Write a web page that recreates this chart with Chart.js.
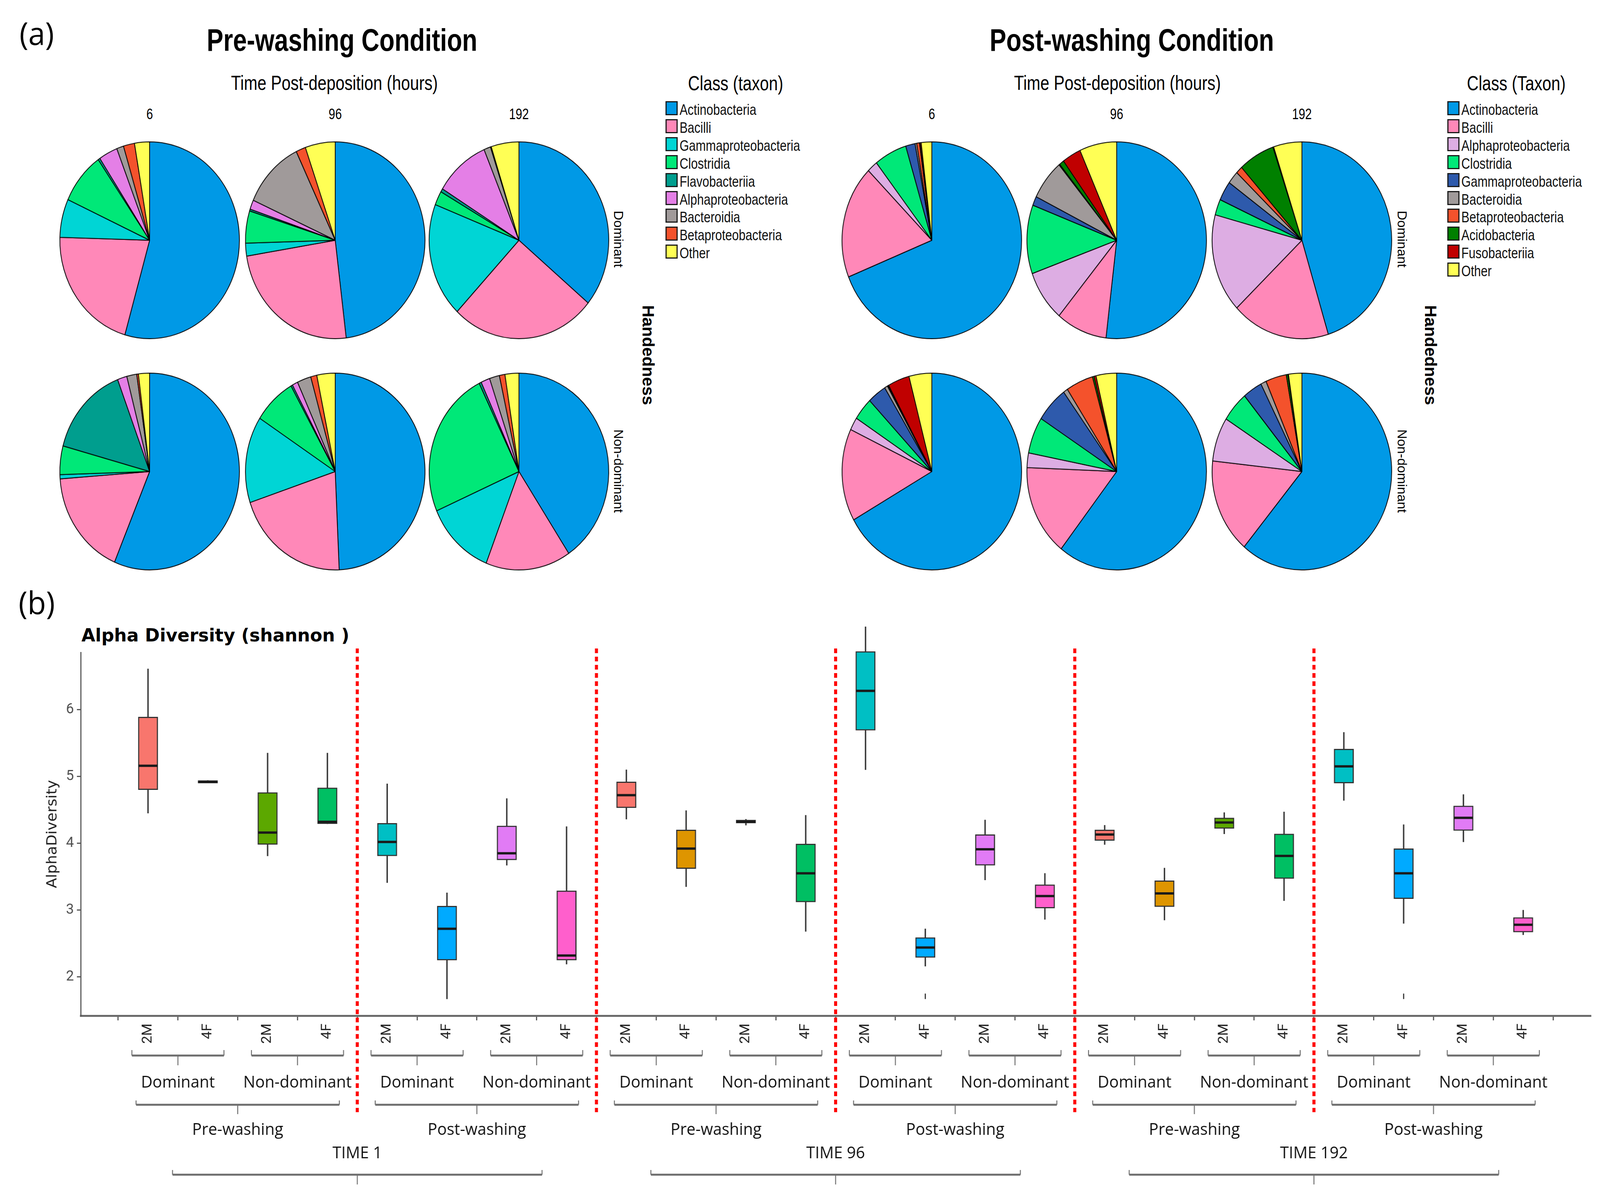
<!DOCTYPE html>
<html>
<head>
<meta charset="utf-8">
<script src="https://cdn.jsdelivr.net/npm/chart.js@4.4.1/dist/chart.umd.min.js"></script>
<style>
  html, body { margin: 0; padding: 0; background: #fff; overflow: hidden; }
  #page { position: relative; width: 4224px; height: 3059px; overflow: hidden; background: #fff; transform-origin: 0 0; }
  .t { position: absolute; white-space: nowrap; color: #000; transform: translate(-50%, -50%); line-height: 1; }
  .arial { font-family: 'Liberation Sans', Arial, sans-serif; }
  .narrow { font-family: 'Liberation Sans', Arial, sans-serif; transform: translate(-50%, -50%) scaleX(0.82); }
  .calibri { font-family: 'Open Sans', 'Noto Sans', sans-serif; }
  .rot { transform: translate(-50%, -50%) rotate(90deg); }
  .pie { position: absolute; width: 480px; height: 480px; transform: scaleY(1.063); }
  .lg { position: absolute; white-space: nowrap; font-size: 39px; line-height: 1; transform-origin: 0 50%;
        transform: translateY(-50%) scaleX(0.82); font-family: 'Liberation Sans', Arial, sans-serif; color: #111; }
  .sw { position: absolute; width: 32px; height: 36px; border: 3.5px solid #1a1a1a; transform: translateY(-50%); box-sizing: border-box; }
  #boxplot { position: absolute; left: 0; top: 1580px; }
</style>
</head>
<body>
<div id="page">
  <div class="t calibri" style="left:97px;top:84px;font-size:80px;">(a)</div>
  <div class="t calibri" style="left:97px;top:1541px;font-size:80px;">(b)</div>

  <div class="t narrow" style="left:903px;top:103px;font-size:80px;font-weight:bold;">Pre-washing Condition</div>
  <div class="t narrow" style="left:2988px;top:103px;font-size:80px;font-weight:bold;">Post-washing Condition</div>
  <div class="t narrow" style="left:883px;top:212px;font-size:52px;">Time Post-deposition (hours)</div>
  <div class="t narrow" style="left:2950px;top:212px;font-size:52px;">Time Post-deposition (hours)</div>
  <div class="t narrow" style="left:1942px;top:213px;font-size:52px;">Class (taxon)</div>
  <div class="t narrow" style="left:4003px;top:213px;font-size:52px;">Class (Taxon)</div>

  <div class="t arial rot" style="left:1633px;top:612px;font-size:34px;">Dominant</div>
  <div class="t arial rot" style="left:1633px;top:1206px;font-size:34px;">Non-dominant</div>
  <div class="t arial rot" style="left:1711px;top:909px;font-size:43px;font-weight:bold;">Handedness</div>
  <div class="t arial rot" style="left:3702px;top:612px;font-size:34px;">Dominant</div>
  <div class="t arial rot" style="left:3702px;top:1206px;font-size:34px;">Non-dominant</div>
  <div class="t arial rot" style="left:3776px;top:909px;font-size:43px;font-weight:bold;">Handedness</div>

  <div class="t" style="left:215px;top:1625px;transform:translateY(-50%);font-family:'DejaVu Sans',sans-serif;font-weight:bold;font-size:47px;">Alpha Diversity (shannon )</div>

  <canvas id="boxplot" width="4224" height="1479"></canvas>
</div>

<script>
// ---- pie data (percent of reads, clockwise from 12 o'clock) ----
const hours = ['6', '96', '192'];

const preTaxa = ['Actinobacteria', 'Bacilli', 'Gammaproteobacteria', 'Clostridia', 'Flavobacteriia',
  'Alphaproteobacteria', 'Bacteroidia', 'Betaproteobacteria', 'Other'];
const preColors = ['#0099E6', '#FF88B8', '#00D5D5', '#00E878', '#009E8E', '#E47FE6', '#A09A9A', '#F4522C', '#FFFF55'];

const preDom6    = [54.4, 21.0, 6.3, 8.5, 0.35, 3.4, 1.25, 2.0, 2.7];
const preDom96   = [48.1, 24.4, 2.1, 5.3, 0.3, 1.55, 11.2, 1.75, 5.4];
const preDom192  = [36.0, 26.1, 18.8, 2.3, 0.55, 9.9, 1.2, 0.15, 5.0];
const preNon6    = [56.4, 17.4, 0.7, 4.7, 15.0, 1.7, 1.8, 0.3, 2.0];
const preNon96   = [49.3, 20.6, 14.2, 7.7, 0.3, 1.0, 2.5, 1.1, 3.3];
const preNon192  = [40.6, 15.3, 12.5, 24.2, 0.4, 1.6, 1.8, 1.0, 2.5];

const postTaxa = ['Actinobacteria', 'Bacilli', 'Alphaproteobacteria', 'Clostridia', 'Gammaproteobacteria',
  'Bacteroidia', 'Betaproteobacteria', 'Acidobacteria', 'Fusobacteriia', 'Other'];
const postColors = ['#0099E6', '#FF88B8', '#DDADE3', '#00E878', '#2E5AAC', '#A09A9A', '#F4522C', '#008000', '#C00000', '#FFFF55'];

const postDom6   = [69.0, 18.6, 1.9, 5.9, 1.7, 0.3, 0.5, 0.1, 0.2, 1.9];
const postDom96  = [51.9, 9.2, 8.4, 11.3, 1.5, 6.6, 0.15, 0.85, 3.4, 6.7];
const postDom192 = [45.3, 17.7, 16.25, 2.6, 3.2, 2.1, 1.2, 6.5, 0.15, 5.1];
const postNon6   = [66.9, 15.2, 2.1, 3.7, 3.4, 0.55, 0.15, 0.1, 3.9, 4.1];
const postNon96  = [60.6, 15.0, 2.4, 6.0, 5.9, 0.8, 4.9, 0.3, 0.35, 3.7];
const postNon192 = [61.2, 15.6, 7.25, 5.0, 3.5, 1.0, 3.75, 0.3, 0.1, 2.4];

// ---- alpha diversity boxplots ----
const xLabels = ['2M', '4F', '2M', '4F', '2M', '4F', '2M', '4F',
                 '2M', '4F', '2M', '4F', '2M', '4F', '2M', '4F',
                 '2M', '4F', '2M', '4F', '2M', '4F', '2M', '4F'];
const whiskLo = [4.45, 4.90, 3.81, 4.29, 3.41, 1.67, 3.67, 2.19,
                 4.36, 3.35, 4.27, 2.68, 5.10, 2.16, 3.45, 2.86,
                 3.98, 2.85, 4.14, 3.14, 4.64, 2.80, 4.02, 2.63];
const q1      = [4.80, 4.90, 3.98, 4.29, 3.81, 2.25, 3.75, 2.25,
                 4.53, 3.62, 4.30, 3.12, 5.69, 2.29, 3.67, 3.03,
                 4.04, 3.05, 4.22, 3.47, 4.90, 3.17, 4.19, 2.67];
const medians = [5.16, 4.92, 4.16, 4.32, 4.02, 2.72, 3.85, 2.32,
                 4.72, 3.92, 4.32, 3.55, 6.28, 2.44, 3.91, 3.21,
                 4.13, 3.25, 4.31, 3.81, 5.15, 3.55, 4.38, 2.78];
const q3      = [5.89, 4.94, 4.76, 4.83, 4.30, 3.06, 4.26, 3.29,
                 4.92, 4.20, 4.35, 3.99, 6.87, 2.59, 4.13, 3.38,
                 4.20, 3.44, 4.38, 4.14, 5.41, 3.92, 4.56, 2.89];
const whiskHi = [6.61, 4.94, 5.35, 5.35, 4.89, 3.26, 4.67, 4.25,
                 5.10, 4.49, 4.36, 4.42, 7.24, 2.72, 4.35, 3.55,
                 4.27, 3.63, 4.46, 4.47, 5.66, 4.28, 4.73, 3.00];
const outlierX = [14, 22];
const outlierY = [1.71, 1.71];
const yTicks = [2, 3, 4, 5, 6];

const handLabels = ['Dominant', 'Non-dominant', 'Dominant', 'Non-dominant', 'Dominant', 'Non-dominant',
                    'Dominant', 'Non-dominant', 'Dominant', 'Non-dominant', 'Dominant', 'Non-dominant'];
const washLabels = ['Pre-washing', 'Post-washing', 'Pre-washing', 'Post-washing', 'Pre-washing', 'Post-washing'];
const timeLabels = ['TIME 1', 'TIME 96', 'TIME 192'];
const separators = [4.5, 8.5, 12.5, 16.5, 20.5];

const groupColors = ['#F8766D', '#DE9500', '#5CA800', '#00BF63', '#00BFC4', '#00AAFF', '#E17BF5', '#FF5FCC'];

const page = document.getElementById('page');

// fit the 4224x3059 page into whatever viewport we get
const sx = window.innerWidth / 4224, sy = window.innerHeight / 3059;
if (Math.abs(sx - 1) > 0.001 || Math.abs(sy - 1) > 0.001) {
  page.style.transform = 'scale(' + sx + ',' + sy + ')';
}

// ---- pies ----
function makePie(cx, cy, values, colors, labels) {
  const c = document.createElement('canvas');
  c.className = 'pie';
  c.width = 480; c.height = 480;
  c.style.left = (cx - 240) + 'px';
  c.style.top = (cy - 240) + 'px';
  page.appendChild(c);
  new Chart(c.getContext('2d'), {
    type: 'pie',
    data: {
      labels: labels,
      datasets: [{ data: values, backgroundColor: colors, borderColor: '#000', borderWidth: 2 }]
    },
    options: {
      responsive: false,
      animation: false,
      devicePixelRatio: 1,
      layout: { padding: 2 },
      plugins: { legend: { display: false }, tooltip: { enabled: false } }
    }
  });
}

function addText(x, y, txt, cls, size) {
  const d = document.createElement('div');
  d.className = 't ' + cls;
  d.style.left = x + 'px';
  d.style.top = y + 'px';
  d.style.fontSize = size + 'px';
  d.textContent = txt;
  page.appendChild(d);
}

function makeLegend(left, taxa, colors) {
  taxa.forEach((name, i) => {
    const y = 277 + i * 45.9;
    const sw = document.createElement('div');
    sw.className = 'sw';
    sw.style.left = left + 'px';
    sw.style.top = y + 'px';
    sw.style.background = colors[i];
    page.appendChild(sw);
    const lb = document.createElement('div');
    lb.className = 'lg';
    lb.style.left = (left + 37) + 'px';
    lb.style.top = (y + 3) + 'px';
    lb.textContent = name;
    page.appendChild(lb);
  });
}

const preX = [395, 885, 1370];
const postX = [2460, 2948, 3437];
const rowY = [615, 1207];

[preDom6, preDom96, preDom192].forEach((v, i) => makePie(preX[i], rowY[0], v, preColors, preTaxa));
[preNon6, preNon96, preNon192].forEach((v, i) => makePie(preX[i], rowY[1], v, preColors, preTaxa));
[postDom6, postDom96, postDom192].forEach((v, i) => makePie(postX[i], rowY[0], v, postColors, postTaxa));
[postNon6, postNon96, postNon192].forEach((v, i) => makePie(postX[i], rowY[1], v, postColors, postTaxa));

hours.forEach((h, i) => {
  addText(preX[i], 292, h, 'narrow', 38);
  addText(postX[i], 292, h, 'narrow', 38);
});

makeLegend(1757, preTaxa, preColors);
makeLegend(3821, postTaxa, postColors);

// ---- boxplot ----
const idx = xLabels.map((_, i) => i + 1);
const boxColors = idx.map(i => groupColors[(i - 1) % 8]);

function bracket(ctx, xa, xb, yLine, yEnd, yTick) {
  const xm = (xa + xb) / 2;
  ctx.lineWidth = 5;
  ctx.beginPath();
  ctx.moveTo(xa, yLine); ctx.lineTo(xb, yLine);
  ctx.stroke();
  ctx.lineWidth = 2.5;
  ctx.beginPath();
  ctx.moveTo(xa, yEnd); ctx.lineTo(xa, yLine);
  ctx.moveTo(xb, yEnd); ctx.lineTo(xb, yLine);
  ctx.moveTo(xm, yLine); ctx.lineTo(xm, yTick);
  ctx.stroke();
}

const boxExtras = {
  id: 'boxExtras',
  afterDatasetsDraw(chart) {
    const { ctx, scales: { y } } = chart;
    const meta = chart.getDatasetMeta(1);
    ctx.save();
    ctx.strokeStyle = '#1a1a1a';
    ctx.lineWidth = 6;
    meta.data.forEach((bar, i) => {
      const p = bar.getProps(['x', 'width'], true);
      const py = y.getPixelForValue(medians[i]);
      ctx.beginPath();
      ctx.moveTo(p.x - p.width / 2 + 1, py);
      ctx.lineTo(p.x + p.width / 2 - 1, py);
      ctx.stroke();
    });
    ctx.restore();
  },
  afterDraw(chart) {
    const { ctx, scales: { x } } = chart;
    ctx.save();
    // group separators
    ctx.strokeStyle = '#FF0000';
    ctx.lineWidth = 8;
    ctx.setLineDash([12, 9]);
    separators.forEach(s => {
      const px = x.getPixelForValue(s);
      ctx.beginPath();
      ctx.moveTo(px, 80);
      ctx.lineTo(px, 1267);
      ctx.stroke();
    });
    ctx.setLineDash([]);

    // nested group brackets
    ctx.strokeStyle = '#6e6e6e';
    ctx.fillStyle = '#111';
    ctx.font = "42px 'Open Sans', 'Noto Sans', sans-serif";
    ctx.textAlign = 'center';
    ctx.textBaseline = 'middle';
    handLabels.forEach((lab, g) => {
      const c = 2 * g + 1.5;
      bracket(ctx, x.getPixelForValue(c - 0.77), x.getPixelForValue(c + 0.77), 1122, 1108, 1147);
      ctx.fillText(lab, x.getPixelForValue(c), 1192);
    });
    washLabels.forEach((lab, g) => {
      const c = 4 * g + 2.5;
      bracket(ctx, x.getPixelForValue(c - 1.7), x.getPixelForValue(c + 1.7), 1248, 1237, 1272);
      ctx.fillText(lab, x.getPixelForValue(c), 1313);
    });
    timeLabels.forEach((lab, g) => {
      const c = 8 * g + 4.5;
      ctx.fillText(lab, x.getPixelForValue(c), 1373);
      bracket(ctx, x.getPixelForValue(c - 3.09), x.getPixelForValue(c + 3.09), 1427, 1415, 1452);
    });
    ctx.restore();
  }
};

new Chart(document.getElementById('boxplot').getContext('2d'), {
  type: 'bar',
  data: {
    datasets: [
      {
        label: 'whisker',
        data: idx.map((v, i) => ({ x: v, y: [whiskLo[i], whiskHi[i]] })),
        backgroundColor: '#333',
        barThickness: 3,
        grouped: false,
        clip: false,
        order: 3
      },
      {
        label: 'box',
        data: idx.map((v, i) => ({ x: v, y: [q1[i], q3[i]] })),
        backgroundColor: boxColors,
        borderColor: '#333',
        borderWidth: 3,
        borderSkipped: false,
        barThickness: 52,
        grouped: false,
        clip: false,
        order: 2
      },
      {
        type: 'scatter',
        label: 'outlier',
        data: outlierX.map((v, i) => ({ x: v, y: outlierY[i] })),
        pointStyle: 'line',
        rotation: 90,
        radius: 7,
        borderWidth: 3,
        borderColor: '#333',
        clip: false,
        order: 1
      }
    ]
  },
  options: {
    responsive: false,
    animation: false,
    devicePixelRatio: 1,
    layout: { padding: { top: 90, right: 25, left: 0, bottom: 0 } },
    plugins: { legend: { display: false }, tooltip: { enabled: false } },
    scales: {
      x: {
        type: 'linear',
        min: 0.4,
        max: 24.6,
        afterFit: s => { s.height = 459; },
        afterBuildTicks: s => { s.ticks = idx.map(v => ({ value: v })); },
        ticks: {
          autoSkip: false,
          minRotation: 90,
          maxRotation: 90,
          padding: 8,
          color: '#222',
          font: { family: "Roboto, 'Liberation Sans', sans-serif", size: 36 },
          callback: v => xLabels[v - 1]
        },
        grid: { drawOnChartArea: false, drawTicks: true, tickLength: 12, color: '#555', lineWidth: 3 },
        border: { display: true, color: '#6a6a6a', width: 5 }
      },
      y: {
        min: 1.42,
        max: 6.856,
        afterFit: s => { s.width = 213; },
        afterBuildTicks: s => { s.ticks = yTicks.map(v => ({ value: v })); },
        ticks: {
          padding: 8,
          color: '#4d4d4d',
          font: { family: "Roboto, 'Liberation Sans', sans-serif", size: 37 }
        },
        grid: { drawOnChartArea: false, drawTicks: true, tickLength: 10, color: '#555', lineWidth: 3 },
        border: { display: true, color: '#555', width: 3 },
        title: {
          display: true,
          text: 'AlphaDiversity',
          color: '#222',
          padding: { top: 116, bottom: 0 },
          font: { family: "'DejaVu Sans', sans-serif", size: 38 }
        }
      }
    }
  },
  plugins: [boxExtras]
});
</script>
</body>
</html>
